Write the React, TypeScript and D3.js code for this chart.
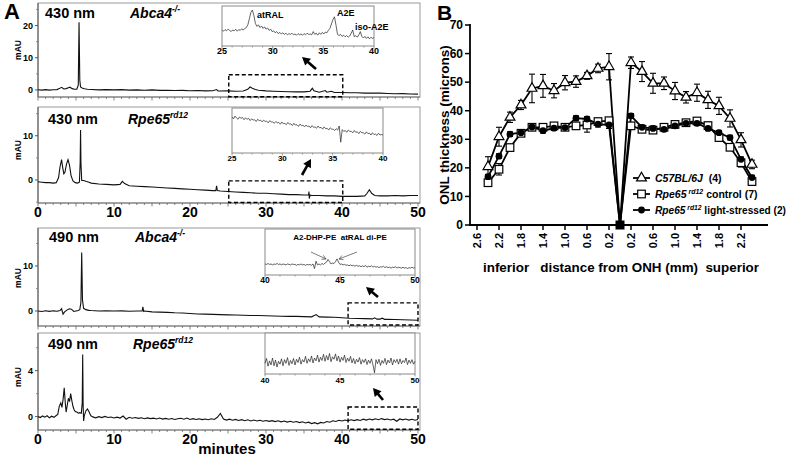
import React from "react";
import * as d3 from "d3";

type P = [number, number];

const FONT = "'Liberation Sans', Arial, Helvetica, sans-serif";

// ---------------- Panel A data ----------------
const minuteTicks = [0, 10, 20, 30, 40, 50];

const trace430Abca4: P[] = [
  [0, 0.05], [0.5, -0.05], [1, 0.08], [1.5, -0.05], [2, 0.05], [2.5, 0.1], [2.8, 0.4], [3.1, 0.8], [3.4, 0.3], [3.7, 0.4],
  [4.0, 0.7], [4.2, 0.85], [4.5, 0.4], [4.8, 0.2], [5.1, 0.25], [5.3, 1.5], [5.4, 21], [5.5, 3], [5.6, 0.9], [5.8, 0.6],
  [6.1, 0.35], [6.5, 0.2], [7, 0.15], [8, 0.0], [9, 0.1], [10, 0.0], [11, 0.08], [12, -0.05], [13, 0.02], [14, -0.1],
  [15, 0.0], [16, -0.15], [17, -0.1], [18, -0.2], [19, -0.15], [20, -0.25], [21, -0.2], [22, -0.3], [23, -0.28],
  [23.5, 0.1], [23.7, -0.3], [24, -0.35], [25, -0.3], [26, -0.4], [27, -0.32], [27.6, 0.2], [27.9, 0.9], [28.2, 0.5],
  [28.6, 0.1], [29, -0.1], [30, -0.3], [31, -0.4], [32, -0.5], [33, -0.55], [34, -0.6], [35, -0.6], [35.8, -0.4],
  [36.1, 0.5], [36.3, -0.3], [37, -0.7], [37.8, -0.2], [38, -0.7], [38.6, -0.4], [39, -0.8], [40, -0.8], [41, -0.9],
  [42, -0.9], [43, -1.0], [44, -1.0], [45, -1.0], [46, -1.1], [47, -1.2], [48, -1.15], [49, -1.25], [50, -1.3],
];

const trace430Rpe65: P[] = [
  [0, -0.4], [0.5, -0.5], [1, -0.6], [1.5, -0.6], [2, -0.7], [2.4, -0.6], [2.7, 0.5], [2.9, 3.0], [3.1, 4.6], [3.25, 2.8],
  [3.4, 1.4], [3.55, 1.8], [3.75, 3.6], [3.95, 4.6], [4.15, 3.3], [4.35, 1.0], [4.6, -0.2], [4.9, -0.6], [5.2, -0.7],
  [5.45, -0.5], [5.55, 4], [5.6, 11.3], [5.65, 4], [5.75, -0.1], [6.0, -0.1], [6.3, -0.3], [6.7, -0.5], [7, -0.7],
  [8, -0.9], [9, -1.0], [10, -1.1], [10.8, -1.0], [11.1, -0.3], [11.4, -0.8], [12, -1.3], [13, -1.4], [14, -1.5],
  [15, -1.6], [16, -1.7], [17, -1.8], [18, -1.9], [19, -2.0], [20, -2.1], [21, -2.2], [22, -2.3], [23, -2.4],
  [23.4, -2.4], [23.5, -1.3], [23.6, -2.4], [24, -2.5], [25, -2.6], [26, -2.7], [27, -2.8], [28, -2.9], [29, -3.0],
  [30, -3.0], [31, -3.1], [32, -3.2], [33, -3.3], [34, -3.3], [35, -3.4], [35.6, -3.4], [35.65, -2.6], [35.7, -4.2],
  [35.8, -3.4], [36, -3.5], [37, -3.5], [38, -3.6], [39, -3.6], [40, -3.7], [41, -3.7], [42, -3.7], [43, -3.6],
  [43.3, -3.0], [43.6, -2.2], [43.9, -3.0], [44.3, -3.5], [45, -3.6], [46, -3.6], [47, -3.5], [48, -3.6], [49, -3.5],
  [50, -3.5],
];

const trace490Abca4: P[] = [
  [0, 0.0], [0.5, -0.1], [1, 0.05], [1.5, -0.08], [2, 0.04], [2.5, -0.05], [2.9, 0.1], [3.1, 0.5], [3.3, -0.7],
  [3.5, -0.2], [3.8, 0.2], [4.1, 0.5], [4.4, 0.4], [4.7, -0.1], [5.0, 0.0], [5.3, 0.1], [5.5, 0.3], [5.65, 2],
  [5.75, 13], [5.85, 2.5], [6.0, 0.6], [6.3, 0.3], [6.7, 0.15], [7, 0.1], [8, 0.0], [9, 0.05], [10, 0.0], [11, 0.02],
  [12, -0.05], [13, 0.0], [13.7, 0.0], [13.8, 0.9], [13.9, -0.1], [14, 0.0], [15, -0.2], [16, -0.25], [17, -0.3],
  [18, -0.4], [19, -0.45], [20, -0.55], [21, -0.65], [22, -0.7], [23, -0.75], [24, -0.8], [25, -0.85], [26, -0.9],
  [27, -0.95], [28, -1.0], [29, -1.0], [30, -1.05], [31, -1.1], [32, -1.15], [33, -1.2], [34, -1.2], [35, -1.25],
  [36, -1.3], [36.6, -0.8], [37, -1.3], [38, -1.35], [39, -1.4], [40, -1.5], [41, -1.6], [42, -1.65], [43, -1.7],
  [44, -1.75], [44.3, -1.5], [44.6, -1.8], [45, -1.8], [45.3, -1.6], [45.6, -1.85], [46, -1.85], [47, -1.9],
  [48, -1.95], [49, -2.0], [50, -2.05],
];

const trace490Rpe65Early: P[] = [
  [0, 0.02], [0.3, -0.08], [0.6, 0.06], [0.9, -0.05], [1.2, 0.08], [1.5, -0.1], [1.8, 0.04], [2.1, -0.06], [2.4, 0.1],
  [2.6, 0.2], [2.8, 0.9], [3.0, 1.2], [3.15, 0.8], [3.3, 1.5], [3.45, 2.5], [3.6, 1.1], [3.7, 0.4], [3.85, 1.0],
  [4.0, 1.6], [4.15, 1.3], [4.3, 2.0], [4.45, 1.4], [4.6, 0.9], [4.75, 0.6], [4.9, 0.45], [5.1, 0.4], [5.3, 0.3],
  [5.5, 0.35], [5.7, 0.3], [5.82, 1.2], [5.88, 5.4], [5.94, 1.0], [6.0, -0.37], [6.1, 0.1], [6.3, 0.5], [6.5, 0.67],
  [6.7, 0.45], [6.9, 0.15], [7.0, 0.05],
];
// sampled from 7.2 min every 0.4 min
const trace490Rpe65Late: number[] = [
  -0.02, -0.10, 0.00, -0.08, 0.02, -0.07, -0.03, -0.11, -0.04, -0.12,
  0.05, -0.22, -0.06, -0.14, -0.08, -0.15, -0.10, -0.18, -0.11, -0.17,
  -0.13, -0.20, -0.12, -0.21, -0.15, -0.23, -0.16, -0.24, -0.18, -0.14,
  -0.22, -0.12, -0.24, -0.17, -0.25, -0.19, -0.26, -0.20, -0.27, -0.18,
  -0.24, -0.05, 0.28, -0.20, -0.30, -0.22, -0.31, -0.24, -0.33, -0.26,
  -0.35, -0.27, -0.37, -0.29, -0.38, -0.31, -0.40, -0.33, -0.41, -0.35,
  -0.43, -0.36, -0.45, -0.38, -0.47, -0.40, -0.49, -0.42, -0.52, -0.45,
  -0.55, -0.48, -0.60, -0.52, -0.62, -0.50, -0.55, -0.42, -0.48, -0.36,
  -0.42, -0.32, -0.38, -0.29, -0.36, -0.27, -0.34, -0.26, -0.33, -0.22,
  -0.30, -0.21, -0.28, -0.18, -0.27, -0.17, -0.26, -0.20, -0.29, -0.22,
  -0.40, -0.20, -0.28, -0.21, -0.30, -0.23, -0.31, -0.25,
];

// insets (relative absorbance units, 0..10 full inset height)
const inset1Values: number[] = [ // 25..40 min, step 0.15
  4.0, 3.7, 4.1, 3.8, 4.2, 3.9, 3.6, 4.0, 3.8, 4.2, 3.7, 4.1, 3.9, 4.3, 4.0, 4.4, 4.6, 5.3, 6.8, 8.4,
  9.0, 7.6, 5.6, 4.9, 5.3, 4.6, 5.0, 4.4, 4.8, 4.2, 4.5, 3.9, 4.2, 3.6, 3.8, 3.3, 3.6, 3.1, 3.4, 3.0,
  3.3, 2.9, 3.2, 2.8, 3.1, 2.9, 3.2, 2.8, 3.0, 2.7, 3.1, 2.8, 3.0, 2.7, 3.1, 2.8, 3.2, 2.9, 3.0, 2.8,
  3.6, 2.9, 3.2, 2.7, 3.3, 2.9, 3.4, 3.0, 3.5, 3.3, 3.9, 4.4, 5.5, 6.6, 7.3, 5.2, 2.9, 2.6, 2.9, 2.4,
  2.7, 2.3, 2.6, 2.2, 2.5, 3.2, 4.0, 2.3, 2.6, 2.2, 2.8, 3.6, 2.4, 2.0, 2.4, 1.9, 2.3, 1.8, 2.2, 1.9,
  2.1,
];
const inset2Values: number[] = [ // 25..40 min, step 0.15
  8.0, 7.6, 8.2, 7.8, 7.5, 8.0, 7.7, 7.9, 7.4, 7.8, 7.5, 7.7, 7.2, 7.6, 7.3, 7.4, 7.0, 7.5, 7.2, 7.3,
  6.9, 7.3, 7.0, 7.1, 6.7, 7.2, 6.9, 6.9, 6.6, 7.0, 6.7, 6.8, 6.4, 6.9, 6.5, 6.6, 6.3, 6.8, 6.4, 6.5,
  6.1, 6.6, 6.2, 6.3, 5.9, 6.4, 6.1, 6.2, 5.8, 6.2, 5.9, 6.0, 5.6, 6.1, 5.7, 5.8, 5.5, 6.0, 5.6, 5.7,
  5.3, 5.8, 5.4, 5.5, 5.1, 5.6, 5.3, 5.3, 5.0, 5.4, 5.1, 6.0, 2.4, 5.2, 4.8, 5.0, 4.6, 5.1, 4.8, 4.8,
  4.5, 5.0, 4.6, 4.7, 4.3, 4.8, 4.5, 4.5, 4.2, 4.7, 4.3, 4.4, 4.0, 4.5, 4.1, 4.2, 3.9, 4.4, 4.0, 4.1,
  4.0,
];
const inset3Values: number[] = [ // 40..50 min, step 0.1
  2.4, 2.3, 2.5, 2.3, 2.4, 2.2, 2.4, 2.3, 2.5, 2.3, 2.4, 2.2, 2.4, 2.3, 2.2, 2.4, 2.3, 2.2, 2.4, 2.3,
  2.3, 2.1, 2.3, 2.2, 2.4, 2.2, 2.3, 2.1, 2.3, 2.2, 2.3, 2.1, 2.4, 1.4, 3.0, 2.2, 2.4, 2.2, 2.5, 2.3,
  2.6, 2.8, 3.4, 2.9, 2.4, 2.6, 2.5, 2.9, 3.5, 2.8, 2.3, 2.4, 2.2, 2.3, 2.1, 2.2, 2.0, 2.2, 2.0, 2.1,
  1.9, 2.1, 1.9, 2.0, 1.8, 2.0, 1.8, 2.1, 1.7, 1.9, 1.8, 2.0, 1.7, 1.9, 1.7, 1.8, 1.6, 1.8, 1.7, 1.9,
  1.6, 1.8, 1.6, 1.7, 1.5, 1.7, 1.6, 1.8, 1.5, 1.7, 1.6, 1.5, 1.7, 1.5, 1.6, 1.4, 1.6, 1.5, 1.7, 1.5,
  1.6,
];
const inset4Values: number[] = [ // 40..50 min, step 0.1
  2.6, 3.8, 1.9, 3.2, 2.2, 3.9, 2.0, 3.4, 1.7, 3.1, 2.4, 3.7, 2.0, 3.5, 2.6, 4.0, 2.1, 3.3, 2.5, 3.8,
  2.2, 3.6, 2.8, 4.1, 2.4, 3.5, 2.9, 4.3, 2.6, 3.7, 3.0, 4.4, 2.7, 3.9, 3.2, 4.6, 2.9, 4.1, 3.3, 4.8,
  3.1, 4.5, 3.4, 5.0, 3.0, 4.2, 3.6, 4.9, 3.2, 4.4, 2.9, 4.1, 3.3, 4.6, 2.8, 3.9, 3.1, 4.3, 2.7, 3.8,
  2.5, 3.6, 2.9, 4.0, 2.4, 3.5, 2.8, 3.7, 2.3, 3.4, 2.6, 3.7, 2.2, 0.3, 3.5, 2.5, 3.6, 2.1, 3.3, 2.6,
  3.8, 2.3, 3.4, 2.7, 3.9, 2.2, 3.5, 2.8, 3.6, 2.4, 3.7, 2.5, 3.3, 2.8, 3.9, 2.3, 3.4, 2.6, 3.5, 2.4,
  3.1,
];

// ---------------- Panel B data ----------------
const distInferior = [2.4, 2.2, 2.0, 1.8, 1.6, 1.4, 1.2, 1.0, 0.8, 0.6, 0.4, 0.2];
const distSuperior = [0.2, 0.4, 0.6, 0.8, 1.0, 1.2, 1.4, 1.6, 1.8, 2.0, 2.2, 2.4];

const c57Inferior = [20.4, 30.9, 37.7, 42.0, 47.8, 48.7, 47.0, 49.8, 50.2, 52.2, 54.8, 55.4];
const c57InferiorErr = [3.5, 3.3, 1.8, 1.6, 5.0, 4.0, 2.5, 2.5, 2.0, 1.2, 1.5, 4.6];
const c57Superior = [56.8, 53.7, 49.6, 49.6, 46.9, 44.7, 46.3, 43.8, 41.7, 37.3, 29.8, 21.2];
const c57SuperiorErr = [2.0, 3.5, 3.5, 2.2, 3.0, 2.0, 3.0, 3.0, 3.0, 3.0, 2.5, 1.5];

const controlInferior = [14.8, 19.5, 27.1, 32.1, 34.2, 34.2, 34.7, 34.2, 34.7, 35.0, 36.2, 36.5];
const controlInferiorErr = [1.0, 2.0, 1.0, 0.8, 0.8, 0.8, 0.8, 0.8, 1.0, 2.5, 0.8, 0.8];
const controlSuperior = [34.7, 33.5, 33.2, 34.2, 35.2, 35.8, 36.4, 34.8, 30.6, 27.2, 21.8, 15.2];
const controlSuperiorErr = [0.8, 0.8, 1.0, 0.8, 0.8, 0.8, 0.8, 0.8, 0.8, 0.8, 1.5, 1.0];

const stressedInferior = [16.9, 24.1, 31.8, 32.3, 34.3, 33.0, 33.9, 34.1, 37.4, 37.1, 35.3, 35.0];
const stressedInferiorErr = [0.8, 0.8, 0.8, 0.8, 0.8, 0.8, 0.8, 0.8, 0.8, 0.8, 1.0, 1.2];
const stressedSuperior = [38.2, 34.2, 33.8, 33.5, 34.7, 35.6, 35.6, 33.8, 32.3, 30.6, 23.0, 16.6];
const stressedSuperiorErr = [0.8, 0.8, 0.8, 0.8, 0.8, 0.8, 0.8, 0.8, 0.8, 0.8, 0.8, 0.8];

const onhValue = 0;

const xTickInferior = [2.6, 2.2, 1.8, 1.4, 1.0, 0.6, 0.2];
const xTickSuperior = [0.2, 0.6, 1.0, 1.4, 1.8, 2.2];
const yTicksB = [0, 10, 20, 30, 40, 50, 60, 70];

// ---------------- Panel A layout ----------------
const X = d3.scaleLinear().domain([0, 50]).range([38, 418]);
const FRAME_RIGHT = 420;

type InsetCfg = {
  x0: number; x1: number; y0: number; y1: number;
  domain: [number, number]; start: number; step: number; values: number[];
  ticks: number[]; labelY: number; labelSize: number;
};

type ChromCfg = {
  top: number; bottom: number; domain: [number, number]; yTicks: number[]; minorY: number[];
  data: P[]; showX: boolean; wave: string; waveX: number; waveY: number;
  gene: string; geneSup: string; geneX: number; mauY: number;
  dash: [number, number, number, number];
  arrow: [number, number, number, number];
  inset: InsetCfg;
};

function Arrow({ a, width = 2.6, head = 8 }: { a: [number, number, number, number]; width?: number; head?: number }) {
  const [x1, y1, x2, y2] = a;
  const dx = x2 - x1, dy = y2 - y1;
  const L = Math.hypot(dx, dy);
  const ux = dx / L, uy = dy / L;
  const bx = x2 - ux * head, by = y2 - uy * head;
  const px = -uy, py = ux;
  const hw = head * 0.55;
  return (
    <g>
      <line x1={x1} y1={y1} x2={bx + ux} y2={by + uy} stroke="#000" strokeWidth={width} />
      <polygon points={`${x2},${y2} ${bx + px * hw},${by + py * hw} ${bx - px * hw},${by - py * hw}`} fill="#000" />
    </g>
  );
}

function ThinArrow({ a }: { a: [number, number, number, number] }) {
  const [x1, y1, x2, y2] = a;
  const dx = x2 - x1, dy = y2 - y1;
  const L = Math.hypot(dx, dy);
  const ux = dx / L, uy = dy / L;
  const h = 4, px = -uy, py = ux;
  const bx = x2 - ux * h, by = y2 - uy * h;
  return (
    <g stroke="#444" strokeWidth={0.7} fill="none">
      <line x1={x1} y1={y1} x2={x2} y2={y2} />
      <polyline points={`${bx + px * 2.2},${by + py * 2.2} ${x2},${y2} ${bx - px * 2.2},${by - py * 2.2}`} />
    </g>
  );
}

function Chrom({ c }: { c: ChromCfg }) {
  const Y = d3.scaleLinear().domain(c.domain).range([c.bottom, c.top]);
  const line = d3.line<P>().x((d) => X(d[0])).y((d) => Y(d[1]));
  const ins = c.inset;
  const IX = d3.scaleLinear().domain(ins.domain).range([ins.x0, ins.x1]);
  const IY = d3.scaleLinear().domain([0, 10]).range([ins.y1, ins.y0]);
  const insetPts: P[] = ins.values.map((v, i) => [ins.start + ins.step * i, v]);
  const iline = d3.line<P>().x((d) => IX(d[0])).y((d) => IY(d[1]));
  const minorMinutes = d3.range(0, 51, 1);
  const insetMinor = d3.range(ins.domain[0], ins.domain[1] + 0.01, 1);
  return (
    <g>
      <rect x={38} y={c.top} width={FRAME_RIGHT - 38} height={c.bottom - c.top} fill="none" stroke="#9a9a9a" strokeWidth={1} />
      <line x1={38} x2={38} y1={c.top} y2={c.bottom} stroke="#555" strokeWidth={1} />
      <line x1={38} x2={FRAME_RIGHT} y1={c.bottom} y2={c.bottom} stroke="#777" strokeWidth={1} />
      {minorMinutes.map((m) => (
        <line key={m} x1={X(m)} x2={X(m)} y1={c.bottom} y2={c.bottom + (m % 5 === 0 ? 3.5 : 2)} stroke="#666" strokeWidth={0.8} />
      ))}
      {c.yTicks.map((t) => (
        <g key={t}>
          <line x1={35} x2={38} y1={Y(t)} y2={Y(t)} stroke="#555" />
          <text x={33} y={Y(t) + 3} textAnchor="end" fontSize={9} fontWeight="bold" fontFamily={FONT}>{t}</text>
        </g>
      ))}
      {c.minorY.map((t) => (
        <line key={"m" + t} x1={36} x2={38} y1={Y(t)} y2={Y(t)} stroke="#777" strokeWidth={0.8} />
      ))}
      <text transform={`translate(21,${c.mauY}) rotate(-90)`} textAnchor="middle" fontSize={8.5} fontWeight="bold" fontFamily={FONT}>mAU</text>
      {c.showX && minuteTicks.map((t) => (
        <text key={t} x={X(t)} y={c.bottom + 14} textAnchor="middle" fontSize={14} fontWeight="bold" fontFamily={FONT}>{t}</text>
      ))}
      <path d={line(c.data) || ""} fill="none" stroke="#111" strokeWidth={1.1} />
      {/* dashed zoom box */}
      <rect x={X(c.dash[0])} y={Y(c.dash[2])} width={X(c.dash[1]) - X(c.dash[0])} height={Y(c.dash[3]) - Y(c.dash[2])}
        fill="none" stroke="#000" strokeWidth={1.4} strokeDasharray="4,2.5" />
      {/* labels */}
      <text x={c.waveX} y={c.waveY} fontSize={14.5} fontWeight="bold" fontFamily={FONT}>{c.wave}</text>
      <text x={c.geneX} y={c.waveY} fontSize={14} fontWeight="bold" fontStyle="italic" fontFamily={FONT}>
        {c.gene}
        <tspan fontSize={8.5} dy={-6}>{c.geneSup}</tspan>
      </text>
      {/* inset */}
      <rect x={ins.x0} y={ins.y0} width={ins.x1 - ins.x0} height={ins.y1 - ins.y0} fill="#fff" stroke="#8a8a8a" strokeWidth={1} />
      <path d={iline(insetPts) || ""} fill="none" stroke="#222" strokeWidth={0.7} />
      {insetMinor.map((m) => (
        <line key={"i" + m} x1={IX(m)} x2={IX(m)} y1={ins.y1} y2={ins.y1 + (m % 5 === 0 ? 2.5 : 1.5)} stroke="#777" strokeWidth={0.7} />
      ))}
      {ins.ticks.map((t) => (
        <text key={"t" + t} x={IX(t)} y={ins.labelY} textAnchor="middle" fontSize={ins.labelSize} fontWeight="bold" fontFamily={FONT}>{t}</text>
      ))}
      <Arrow a={c.arrow} />
    </g>
  );
}

const panels: ChromCfg[] = [
  {
    top: 3, bottom: 97, domain: [-2.2, 27], yTicks: [0, 10, 20], minorY: [5, 15, 25], data: trace430Abca4, showX: false,
    wave: "430 nm", waveX: 45, waveY: 18, gene: "Abca4", geneSup: "-/-", geneX: 130, mauY: 50,
    dash: [25.1, 40.1, 4.7, -2.1], arrow: [316, 69, 302, 57],
    inset: { x0: 222, x1: 374, y0: 6, y1: 46, domain: [25, 40], start: 25, step: 0.15, values: inset1Values,
      ticks: [25, 30, 35, 40], labelY: 54, labelSize: 9 },
  },
  {
    top: 107, bottom: 203, domain: [-5.2, 16.5], yTicks: [0, 10], minorY: [5, 15, -5], data: trace430Rpe65, showX: true,
    wave: "430 nm", waveX: 48, waveY: 124, gene: "Rpe65", geneSup: "rd12", geneX: 128, mauY: 150,
    dash: [25.1, 40.1, -0.2, -5.1], arrow: [302, 175, 311, 159],
    inset: { x0: 232, x1: 383, y0: 108, y1: 153, domain: [25, 40], start: 25, step: 0.15, values: inset2Values,
      ticks: [25, 30, 35, 40], labelY: 161, labelSize: 8 },
  },
  {
    top: 228, bottom: 326, domain: [-3.33, 18.44], yTicks: [0, 10], minorY: [5, 15], data: trace490Abca4, showX: false,
    wave: "490 nm", waveX: 49, waveY: 242, gene: "Abca4", geneSup: "-/-", geneX: 135, mauY: 278,
    dash: [40.8, 50, 1.8, -3.1], arrow: [378, 297, 366, 287],
    inset: { x0: 265, x1: 415, y0: 229, y1: 275, domain: [40, 50], start: 40, step: 0.1, values: inset3Values,
      ticks: [40, 45, 50], labelY: 283, labelSize: 8.5 },
  },
  {
    top: 333, bottom: 430, domain: [-1.16, 7.27], yTicks: [0, 4], minorY: [2, 6], data: [...trace490Rpe65Early, ...trace490Rpe65Late.map((v, i) => [7.2 + 0.4 * i, v] as P)],
    showX: true,
    wave: "490 nm", waveX: 48, waveY: 349, gene: "Rpe65", geneSup: "rd12", geneX: 133, mauY: 377,
    dash: [40.8, 50, 0.84, -1.1], arrow: [383, 400, 373, 388],
    inset: { x0: 265, x1: 415, y0: 333, y1: 374, domain: [40, 50], start: 40, step: 0.1, values: inset4Values,
      ticks: [40, 45, 50], labelY: 383, labelSize: 8 },
  },
];

// ---------------- Panel B ----------------
const XB = d3.scaleLinear().domain([-2.6, 2.2]).range([477, 741]);
const YB = d3.scaleLinear().domain([0, 70]).range([225, 25]);

type Series = { name: string; inf: number[]; infErr: number[]; sup: number[]; supErr: number[]; marker: "tri" | "sq" | "dot" };
const series: Series[] = [
  { name: "c57", inf: c57Inferior, infErr: c57InferiorErr, sup: c57Superior, supErr: c57SuperiorErr, marker: "tri" },
  { name: "ctrl", inf: controlInferior, infErr: controlInferiorErr, sup: controlSuperior, supErr: controlSuperiorErr, marker: "sq" },
  { name: "stress", inf: stressedInferior, infErr: stressedInferiorErr, sup: stressedSuperior, supErr: stressedSuperiorErr, marker: "dot" },
];

function Marker({ kind, x, y }: { kind: "tri" | "sq" | "dot"; x: number; y: number }) {
  if (kind === "tri") {
    const d = d3.symbol().type(d3.symbolTriangle).size(42)() || "";
    return <path d={d} transform={`translate(${x},${y})`} fill="#fff" stroke="#000" strokeWidth={1.2} />;
  }
  if (kind === "sq") {
    return <rect x={x - 3.8} y={y - 3.8} width={7.6} height={7.6} fill="#fff" stroke="#000" strokeWidth={1.2} />;
  }
  return <circle cx={x} cy={y} r={3.4} fill="#000" />;
}

function PanelB() {
  const lineGen = d3.line<P>().x((d) => XB(d[0])).y((d) => YB(d[1]));
  return (
    <g fontFamily={FONT}>
      <text x={437} y={20} fontSize={21} fontWeight="bold">B</text>
      {/* axes */}
      <line x1={470} x2={470} y1={24} y2={226} stroke="#000" strokeWidth={1.8} />
      <line x1={469} x2={768} y1={225} y2={225} stroke="#000" strokeWidth={1.8} />
      {yTicksB.map((t) => (
        <g key={t}>
          <line x1={465} x2={470} y1={YB(t)} y2={YB(t)} stroke="#000" strokeWidth={1.5} />
          <text x={463} y={YB(t) + 4.3} textAnchor="end" fontSize={12} fontWeight="bold">{t}</text>
        </g>
      ))}
      {[...xTickInferior.map((d) => -d), ...xTickSuperior].map((d, i) => (
        <g key={i}>
          <line x1={XB(d)} x2={XB(d)} y1={225} y2={230} stroke="#000" strokeWidth={1.5} />
          <text transform={`translate(${XB(d) + 4},${233}) rotate(-90)`} textAnchor="end" fontSize={11} fontWeight="bold">
            {Math.abs(d).toFixed(1)}
          </text>
        </g>
      ))}
      <text transform="translate(449,125) rotate(-90)" textAnchor="middle" fontSize={13.5} fontWeight="bold">ONL thickness (microns)</text>
      <text x={483} y={272} fontSize={13.5} fontWeight="bold" xmlSpace="preserve" textLength={276} lengthAdjust="spacingAndGlyphs">
        {"inferior   distance from ONH (mm)  superior"}
      </text>

      {series.map((s) => {
        const pts: P[] = [
          ...distInferior.map((d, i) => [-d, s.inf[i]] as P),
          [0, onhValue],
          ...distSuperior.map((d, i) => [d, s.sup[i]] as P),
        ];
        const errs = [...s.infErr, 0, ...s.supErr];
        return (
          <g key={s.name}>
            <path d={lineGen(pts) || ""} fill="none" stroke="#000" strokeWidth={1.8} />
            {pts.map((p, i) => errs[i] > 0 ? (
              <g key={"e" + i} stroke="#000" strokeWidth={1.1}>
                <line x1={XB(p[0])} x2={XB(p[0])} y1={YB(p[1] - errs[i])} y2={YB(p[1] + errs[i])} />
                <line x1={XB(p[0]) - 3} x2={XB(p[0]) + 3} y1={YB(p[1] + errs[i])} y2={YB(p[1] + errs[i])} />
                <line x1={XB(p[0]) - 3} x2={XB(p[0]) + 3} y1={YB(p[1] - errs[i])} y2={YB(p[1] - errs[i])} />
              </g>
            ) : null)}
          </g>
        );
      })}
      {series.map((s) => {
        const pts: P[] = [
          ...distInferior.map((d, i) => [-d, s.inf[i]] as P),
          ...distSuperior.map((d, i) => [d, s.sup[i]] as P),
        ];
        return (
          <g key={"m" + s.name}>
            {pts.map((p, i) => <Marker key={i} kind={s.marker} x={XB(p[0])} y={YB(p[1])} />)}
          </g>
        );
      })}
      <rect x={XB(0) - 4.5} y={YB(onhValue) - 4.5} width={9} height={9} fill="#000" />

      {/* legend */}
      {[
        { kind: "tri" as const, y: 178 },
        { kind: "sq" as const, y: 194 },
        { kind: "dot" as const, y: 210 },
      ].map((r, i) => (
        <g key={i}>
          <line x1={633} x2={650} y1={r.y} y2={r.y} stroke="#000" strokeWidth={1.8} />
          <Marker kind={r.kind} x={641.5} y={r.y} />
        </g>
      ))}
      <text x={655} y={182} fontSize={10.5} fontWeight="bold">
        <tspan fontStyle="italic">C57BL/6J</tspan>
        <tspan>{"\u00a0 (4)"}</tspan>
      </text>
      <text x={655} y={198} fontSize={10.5} fontWeight="bold">
        <tspan fontStyle="italic">Rpe65</tspan>
        <tspan fontStyle="italic" fontSize={7} dy={-4}>{"\u00a0rd12"}</tspan>
        <tspan dy={4}> control (7)</tspan>
      </text>
      <text x={655} y={214} fontSize={10.5} fontWeight="bold" textLength={131} lengthAdjust="spacingAndGlyphs">
        <tspan fontStyle="italic">Rpe65</tspan>
        <tspan fontStyle="italic" fontSize={7} dy={-4}>{"\u00a0rd12"}</tspan>
        <tspan dy={4}> light-stressed (2)</tspan>
      </text>
    </g>
  );
}

export default function App() {
  return (
    <svg width={788} height={456} style={{ position: "absolute", left: 0, top: 0, background: "#fff" }} fontFamily={FONT}>
      <rect x={0} y={0} width={788} height={456} fill="#fff" />
      <text x={4} y={19} fontSize={22} fontWeight="bold">A</text>
      {panels.map((c, i) => <Chrom key={i} c={c} />)}
      {/* inset-3 peak annotations */}
      <text x={340} y={240} textAnchor="middle" fontSize={8} fontWeight="bold" xmlSpace="preserve">{"A2-DHP-PE  atRAL di-PE"}</text>
      <ThinArrow a={[311, 252, 326, 259]} />
      <ThinArrow a={[357, 252, 339, 259]} />
      {/* inset-1 peak labels */}
      <text x={257} y={18} fontSize={9} fontWeight="bold">atRAL</text>
      <text x={337} y={16} fontSize={9} fontWeight="bold">A2E</text>
      <text x={355} y={30} fontSize={9} fontWeight="bold">iso-A2E</text>
      <text x={227} y={454} textAnchor="middle" fontSize={15} fontWeight="bold">minutes</text>
      <PanelB />
    </svg>
  );
}
